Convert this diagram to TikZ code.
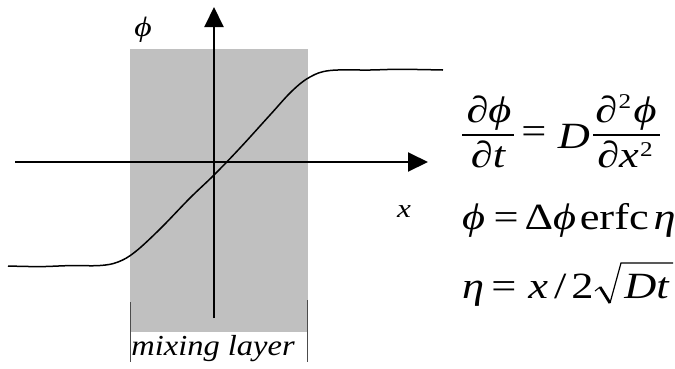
\documentclass[tikz,border=0pt]{standalone}
\usepackage{graphicx}
\usepackage{fontspec}
\setmainfont{Liberation Serif}
\usetikzlibrary{arrows.meta}
\definecolor{layergray}{RGB}{192,192,192}
\newcommand\wide[1]{\scalebox{1.2}[1]{#1}}
\newcommand\supr[2]{\raisebox{#1}{\fontsize{21}{21}\selectfont #2}}
\begin{document}
\begin{tikzpicture}[x=1pt,y=-1pt,
  axis/.style={line width=2pt,-{Triangle[length=20pt,width=19pt]}},
  curve/.style={line width=1.5pt},
  tick/.style={line width=0.8pt,draw=black!70},
  fracbar/.style={line width=1.4pt},
  eqn/.style={inner sep=0pt,font=\fontsize{37}{40}\selectfont},
  lbl/.style={inner sep=0pt,font=\fontsize{28}{30}\selectfont\itshape}]
\useasboundingbox (0,0) rectangle (675,368);
\fill[layergray] (130,49) rectangle (308,332);
\coordinate (ybot) at (214,318);
\coordinate (ytop) at (214,7);
\coordinate (xl) at (15,162);
\coordinate (xr) at (428,162);
\draw[axis] (ybot) -- (ytop);
\draw[axis] (xl) -- (xr);
\draw[curve] plot[smooth,tension=0.6] coordinates {(8,266) (40,266.6) (70,265.6) (100,265.5) (118,262) (135,252) (160,229) (190,198) (214,175) (240,148) (270,115) (292,91) (310,77) (330,70.5) (370,70) (400,69.3) (443,70)};
\coordinate (t1a) at (130,302); \coordinate (t1b) at (130,362);
\coordinate (t2a) at (307,300); \coordinate (t2b) at (307,362);
\draw[tick] (t1a) -- (t1b);
\draw[tick] (t2a) -- (t2b);
\node[lbl] (philab) at (143,30) {\wide{ϕ}};
\node[lbl,font=\fontsize{26}{28}\selectfont\itshape] (xlab) at (404,212) {\wide{x}};
\node[inner sep=0pt,anchor=base] (mix) at (213,355) {\fontsize{29}{30}\selectfont\itshape\scalebox{1.12}[1]{mixing layer}};
% equation 1
\node[eqn,anchor=base] (n1) at (489,122) {\wide{\itshape ∂ϕ}};
\node[eqn,anchor=base] (d1) at (488,167) {\wide{\itshape ∂t}};
\coordinate (b1l) at (462,135); \coordinate (b1r) at (514,135);
\draw[fracbar] (b1l) -- (b1r);
\node[eqn] (eqs) at (534,135) {\wide{=}};
\node[eqn,anchor=base] (dd) at (574,148) {\wide{\itshape D}};
\node[eqn,anchor=base] (n2) at (626,122) {\wide{\itshape ∂\hspace{1pt}\supr{14pt}{\upshape 2}\hspace{2pt}ϕ}};
\node[eqn,anchor=base] (d2) at (625,167) {\wide{\itshape ∂x\hspace{1pt}\supr{11pt}{\upshape 2}}};
\coordinate (b2l) at (593,135); \coordinate (b2r) at (660,135);
\draw[fracbar] (b2l) -- (b2r);
% equation 2
\node[eqn,anchor=base west] (eq2) at (462,229) {\wide{\itshape ϕ\hspace{7pt}\upshape=\hspace{5pt}Δ\itshape ϕ\hspace{3pt}\upshape erfc\hspace{4pt}\itshape η}};
% equation 3
\node[eqn,anchor=base west] (eq3) at (462,298) {\wide{\itshape η\hspace{6pt}\upshape=\hspace{10pt}\itshape x\hspace{5pt}\upshape/\hspace{4pt}2}};
\node[eqn,anchor=base east] (dt) at (669,298) {\wide{\itshape Dt}};
\coordinate (r0) at (595,291);
\coordinate (r1) at (600,287);
\coordinate (r2) at (610,303);
\coordinate (r3) at (621,263);
\coordinate (r4) at (673,263);
\draw[line width=1pt] (r0) -- (r1);
\draw[line width=2.8pt] (r1) -- (r2);
\draw[line width=1.2pt,line join=miter] (r2) -- (r3) -- (r4);
\end{tikzpicture}
\end{document}
